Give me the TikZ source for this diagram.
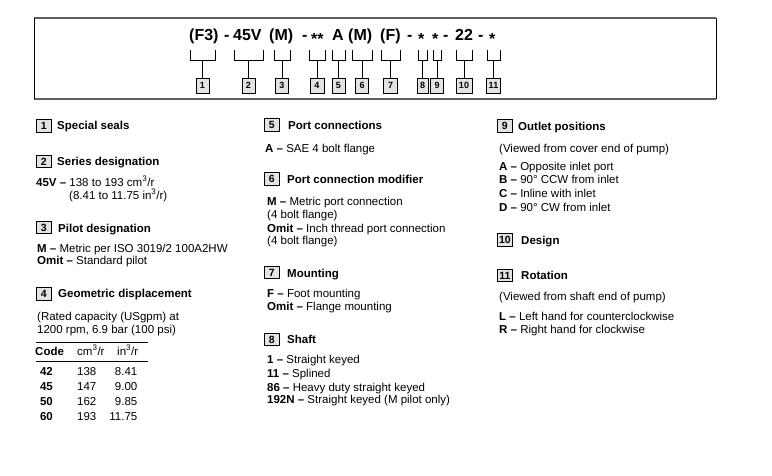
\documentclass[tikz,border=0pt]{standalone}
\usepackage{fontspec}
\setmainfont{Liberation Sans}

\tikzset{
  code/.style={anchor=base west,inner sep=0,font=\bfseries\fontsize{16}{16}\selectfont},
  tag/.style={draw,fill=gray!22,line width=0.8,inner sep=0,minimum width=13,minimum height=15,font=\bfseries\fontsize{9}{9}\selectfont},
  numbox/.style={draw,fill=gray!22,line width=0.8,inner sep=0,minimum width=15,minimum height=12.5,font=\bfseries\fontsize{10.5}{10.5}\selectfont},
  head/.style={anchor=base west,inner sep=0,font=\bfseries\fontsize{11.5}{12}\selectfont},
  txt/.style={anchor=base west,inner sep=0,font=\fontsize{11.5}{13}\selectfont}
}

\begin{document}
\begin{tikzpicture}[x=1pt,y=-1pt]
  \useasboundingbox (0,0) rectangle (772,475);
  % frame round the ordering code
  \draw[gray!75!black,line width=1.6] (34,18) -- (716,18) (34,99) -- (716,99);
  \draw[line width=0.9] (34,18) -- (34,99) (716,18) -- (716,99);

  \node[code] (c1) at (189,40) {(F3)};
  \node[code] (d1) at (224,40) {-};
  \node[code] (c2) at (233,40) {45V};
  \node[code] (c3) at (269,40) {(M)};
  \node[code] (d2) at (302,40) {-};
  \node[code] (c4) at (311,40) {\raisebox{-4pt}{**}};
  \node[code] (c5) at (332,40) {A};
  \node[code] (c6) at (348,40) {(M)};
  \node[code] (c7) at (380,40) {(F)};
  \node[code] (d3) at (407,40) {-};
  \node[code] (c8) at (418,40) {\raisebox{-4pt}{*}};
  \node[code] (c9) at (432,40) {\raisebox{-4pt}{*}};
  \node[code] (d4) at (443,40) {-};
  \node[code] (c10) at (455,40) {22};
  \node[code] (d5) at (478,40) {-};
  \node[code] (c11) at (489,40) {\raisebox{-4pt}{*}};

  \foreach \i/\xa/\xb/\w in {1/190/215/13,2/234/263/13,3/274/290/13,4/309/325/14,
      5/332/345/13,6/352/372/13,7/381/400/14,8/418/427/11,9/433/441/13,
      10/456/472/16,11/487/500/14}{
    \coordinate (k\i) at ({(\xa+\xb)/2},60);
    \draw[line width=0.8] (\xa,50) -- (\xa,60) -- (\xb,60) -- (\xb,50);
    \node[tag,minimum width=\w] (t\i) at ({(\xa+\xb)/2},85.5) {\i};
    \draw[line width=0.8] (k\i) -- (t\i);
  }

  % left column
  \node[numbox,anchor=west] (b1) at (36,126) {1};
  \node[head] (h1) at (57,129) {Special seals};
  \node[numbox,anchor=west] (b2) at (36,161.5) {2};
  \node[head] (h2) at (57,165) {Series designation};
  \node[txt] (l2a) at (36,186) {\textbf{45V –} 138 to 193 cm\textsuperscript{3}/r};
  \node[txt] (l2b) at (69,199) {(8.41 to 11.75 in\textsuperscript{3}/r)};
  \node[numbox,anchor=west] (b3) at (36,227.5) {3};
  \node[head] (h3) at (58,232) {Pilot designation};
  \node[txt] (l3a) at (37,252) {\textbf{M –} Metric per ISO 3019/2 100A2HW};
  \node[txt] (l3b) at (37,264) {\textbf{Omit –} Standard pilot};
  \node[numbox,anchor=west] (b4) at (36,294) {4};
  \node[head] (h4) at (58,297) {Geometric displacement};
  \node[txt] (l4a) at (37,320) {(Rated capacity (USgpm) at};
  \node[txt] (l4b) at (37,333) {1200 rpm, 6.9 bar (100 psi)};
  \coordinate (r1) at (36,342);
  \coordinate (r2) at (148,342);
  \draw[line width=0.9] (r1) -- (r2);
  \node[txt,font=\bfseries\fontsize{11.5}{13}\selectfont] (th1) at (35,355) {Code};
  \node[txt] (th2) at (77,355) {cm\textsuperscript{3}/r};
  \node[txt] (th3) at (117,355) {in\textsuperscript{3}/r};
  \draw[line width=0.9] ([yshift=-19.5]r1) -- ([yshift=-19.5]r2);
  \foreach \c/\m/\n [count=\k] in {42/138/8.41,45/147/9.00,50/162/9.85,60/193/11.75}{
    \node[txt,anchor=base,font=\bfseries\fontsize{11.5}{13}\selectfont] (rc\k) at (46.5,360+15*\k) {\c};
    \node[txt] (rm\k) at (77,360+15*\k) {\m};
    \node[txt,anchor=base east] (rn\k) at (137.5,360+15*\k) {\n};
  }

  % middle column
  \node[numbox,anchor=west] (b5) at (264,125) {5};
  \node[head] (h5) at (288,129) {Port connections};
  \node[txt] (l5a) at (265,152) {\textbf{A –} SAE 4 bolt flange};
  \node[numbox,anchor=west] (b6) at (264,179) {6};
  \node[head] (h6) at (287,183) {Port connection modifier};
  \node[txt] (l6a) at (267,205) {\textbf{M –} Metric port connection};
  \node[txt] (l6b) at (267,218) {(4 bolt flange)};
  \node[txt] (l6c) at (267,232) {\textbf{Omit –} Inch thread port connection};
  \node[txt] (l6d) at (267,244) {(4 bolt flange)};
  \node[numbox,anchor=west] (b7) at (264,272.5) {7};
  \node[head] (h7) at (287,277) {Mounting};
  \node[txt] (l7a) at (267,297) {\textbf{F –} Foot mounting};
  \node[txt] (l7b) at (267,310) {\textbf{Omit –} Flange mounting};
  \node[numbox,anchor=west] (b8) at (264,339.5) {8};
  \node[head] (h8) at (287,343) {Shaft};
  \node[txt] (l8a) at (267,363) {\textbf{1 –} Straight keyed};
  \node[txt] (l8b) at (267,377) {\textbf{11 –} Splined};
  \node[txt] (l8c) at (267,391) {\textbf{86 –} Heavy duty straight keyed};
  \node[txt] (l8d) at (267,403) {\textbf{192N –} Straight keyed (M pilot only)};

  % right column
  \node[numbox,anchor=west] (b9) at (497,126) {9};
  \node[head] (h9) at (518,130) {Outlet positions};
  \node[txt] (l9a) at (499,152) {(Viewed from cover end of pump)};
  \node[txt] (l9b) at (499,170) {\textbf{A –} Opposite inlet port};
  \node[txt] (l9c) at (499,183.5) {\textbf{B –} 90° CCW from inlet};
  \node[txt] (l9d) at (499,197) {\textbf{C –} Inline with inlet};
  \node[txt] (l9e) at (499,211) {\textbf{D –} 90° CW from inlet};
  \node[numbox,anchor=west] (b10) at (497,240) {10};
  \node[head] (h10) at (521,244) {Design};
  \node[numbox,anchor=west] (b11) at (497,275.5) {11};
  \node[head] (h11) at (521,279) {Rotation};
  \node[txt] (l11a) at (499,300) {(Viewed from shaft end of pump)};
  \node[txt] (l11b) at (499,320) {\textbf{L –} Left hand for counterclockwise};
  \node[txt] (l11c) at (499,333) {\textbf{R –} Right hand for clockwise};
\end{tikzpicture}
\end{document}
